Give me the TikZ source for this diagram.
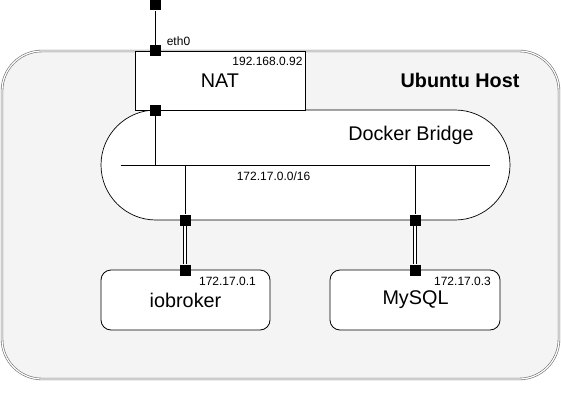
\documentclass[tikz,border=0pt]{standalone}
\usepackage{fontspec}
\setmainfont{Liberation Sans}
\usetikzlibrary{shapes.misc}
\definecolor{hostfill}{HTML}{F4F4F4}
\definecolor{hostline}{HTML}{6F6F6F}
\begin{document}
\begin{tikzpicture}[x=1pt,y=-1pt,
  big/.style={font=\fontsize{19.8}{23}\selectfont},
  small/.style={font=\fontsize{12}{14}\selectfont},
  port/.style={fill=black,draw=none,minimum size=11pt,inner sep=0pt},
  wire/.style={line width=0.9pt},
  dwire/.style={line width=0.9pt,double=white,double distance=2.6pt},
  ctr/.style={draw,line width=0.8pt,fill=white,rounded corners=10pt,inner sep=0pt}]
\useasboundingbox (0,0) rectangle (561,417);
% host
\node[draw=hostline,line width=0.6pt,double=white,double distance=1.2pt,fill=hostfill,
  rounded corners=40pt,minimum width=557pt,minimum height=328pt,inner sep=0pt] (host) at (280.5,215) {};
\node[font=\fontsize{19.8}{23}\selectfont\bfseries] (hostlbl) at (460,80) {Ubuntu Host};
% bridge
\node[draw,line width=0.7pt,fill=white,rounded rectangle,minimum width=409pt,minimum height=110pt,inner sep=0pt] (bridge) at (305.5,165) {};
\node[big] (bridgelbl) at (411,135) {Docker Bridge};
% NAT
\node[draw,line width=0.8pt,fill=white,minimum width=170pt,minimum height=59pt,inner sep=0pt] (nat) at (220,80.5) {};
\node[big] (natlbl) at (220,81) {NAT};
\node[small] (natip) at (267.5,61) {192.168.0.92};
% containers
\node[ctr,minimum width=169pt,minimum height=60pt] (io) at (185.5,300) {};
\node[big] (iolbl) at (185.5,300) {iobroker};
\node[small] (ioip) at (227.5,281) {172.17.0.1};
\node[ctr,minimum width=170pt,minimum height=60pt] (my) at (415,300) {};
\node[big] (mylbl) at (415.5,300) {MySQL};
\node[small] (myip) at (462.5,281) {172.17.0.3};
% bus
\coordinate (busL) at (120.5,165);
\coordinate (busR) at (490,165);
\coordinate (jn) at (155.5,165);
\coordinate (j1) at (185,165);
\coordinate (j2) at (415,165);
\draw[wire] (busL) -- (busR);
\node[small] (buslbl) at (273.5,176) {172.17.0.0/16};
% ports
\node[port] (p0) at (155.5,5) {};
\node[port] (peth) at (155.5,50.5) {};
\node[port] (pnat) at (155.5,110) {};
\node[port] (pb1) at (185,220) {};
\node[port] (pb2) at (415,220) {};
\node[port] (pc1) at (185,270) {};
\node[port] (pc2) at (415,270) {};
\node[small] (ethlbl) at (178.5,41) {eth0};
% connectors
\draw[wire] (p0) -- (peth);
\draw[wire] (pnat) -- (jn);
\draw[wire] (j1) -- (pb1);
\draw[wire] (j2) -- (pb2);
\draw[dwire] (pb1) -- (pc1);
\draw[dwire] (pb2) -- (pc2);
\end{tikzpicture}
\end{document}
